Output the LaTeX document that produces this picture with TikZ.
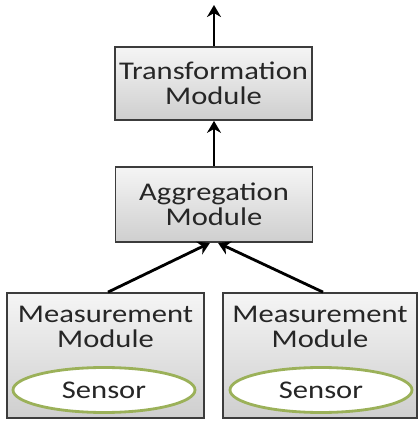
\documentclass[tikz,border=0pt]{standalone}
\usepackage{fontspec}
\setmainfont{Carlito}
\usepackage{xcolor}
\usetikzlibrary{arrows.meta,positioning,shapes.geometric}

\definecolor{boxline}{HTML}{3C3C3C}
\definecolor{sensorline}{HTML}{9BB159}

\begin{document}
\begin{tikzpicture}[
    module/.style={draw=boxline,line width=1pt,top color=gray!8,bottom color=gray!38,
        minimum width=3.94cm,inner sep=0pt},
    modtext/.style={align=center,xscale=1.2,inner sep=0pt,
        font=\fontsize{14.5}{14.5}\selectfont,text=black!85},
    sensor/.style={ellipse,draw=sensorline,line width=1.6pt,fill=white,
        minimum width=3.64cm,minimum height=0.9cm},
    flow/.style={line width=1.6pt,-{Stealth[length=2.4mm,width=2.8mm]}}
]
            % Bounding box
            \useasboundingbox (0,0) rectangle (8.38,8.42);

            % Draw the upper modules
            \node[module,minimum height=1.46cm] (trans) at (4.27,6.75) {};
            \node[modtext] (transtext) at (trans) {Transformation\\Module};
            \node[module,minimum height=1.5cm] (aggr) at (4.28,4.33) {};
            \node[modtext] (aggrtext) at (aggr) {Aggregation\\Module};

            % Draw the measurement modules with their sensors
            \node[module,minimum height=2.5cm] (meas1) at (2.11,1.31) {};
            \node[modtext] (meas1text) at (2.11,1.88) {Measurement\\Module};
            \node[sensor] (sens1) at (2.08,0.62) {};
            \node[modtext] (sens1text) at (sens1) {Sensor};
            \node[module,minimum height=2.5cm,minimum width=3.88cm] (meas2) at (6.40,1.31) {};
            \node[modtext] (meas2text) at (6.40,1.88) {Measurement\\Module};
            \node[sensor] (sens2) at (6.42,0.62) {};
            \node[modtext] (sens2text) at (sens2) {Sensor};

            % Draw the arrows
            \coordinate (out) at (4.28,8.32);
            \draw[flow] (meas1.north -| 2.16,0) -- (aggr.south -| 4.2,0);
            \draw[flow] (meas2.north -| 6.46,0) -- (aggr.south -| 4.36,0);
            \draw[flow] (aggr.north -| 4.28,0) -- (trans.south -| 4.28,0);
            \draw[flow] (trans.north -| 4.28,0) -- (out);
        \end{tikzpicture}
\end{document}
